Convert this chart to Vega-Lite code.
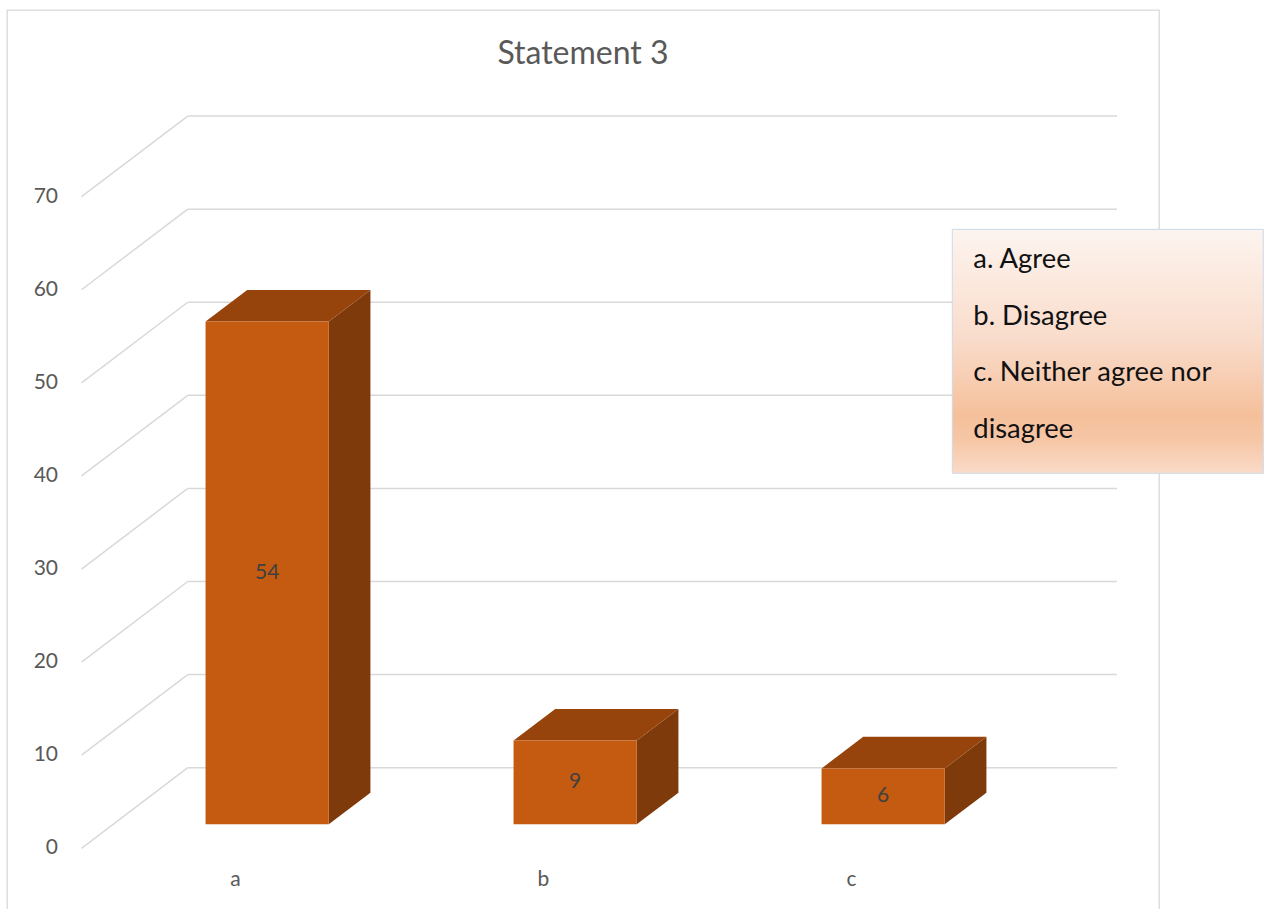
{
  "$schema": "https://vega.github.io/schema/vega-lite/v6.json",
  "width": 1152,
  "height": 902,
  "autosize": "none",
  "padding": {"left": 7, "top": 10, "right": 106, "bottom": 0},
  "background": "#ffffff",
  "config": {
    "font": "Lato",
    "view": {"stroke": "#d9d9d9", "strokeWidth": 1.3}
  },
  "title": {
    "text": "Statement 3",
    "font": "Lato",
    "fontSize": 32,
    "fontWeight": "normal",
    "color": "#595959",
    "anchor": "middle",
    "frame": "group",
    "baseline": "alphabetic",
    "offset": -85.5
  },
  "datasets": {
    "responses": [
      {"label": "a", "value": 54},
      {"label": "b", "value": 9},
      {"label": "c", "value": 6}
    ],
    "ticks": [
      {"tick": 0}, {"tick": 10}, {"tick": 20}, {"tick": 30},
      {"tick": 40}, {"tick": 50}, {"tick": 60}, {"tick": 70}
    ],
    "note": [
      {"text": "a. Agree\nb. Disagree\nc. Neither agree nor\ndisagree"}
    ]
  },
  "layer": [
    {
      "description": "side wall: oblique gridlines running from the floor front to the back wall",
      "data": {"name": "ticks"},
      "transform": [{"calculate": "datum.tick + 8.658", "as": "wall"}],
      "mark": {"type": "rule", "color": "#d9d9d9", "strokeWidth": 1.5},
      "encoding": {
        "x": {"datum": 0, "type": "quantitative", "scale": {"domain": [-0.2419, 3.4984], "nice": false, "zero": false}, "axis": null},
        "x2": {"datum": 0.345},
        "y": {"field": "tick", "type": "quantitative", "scale": {"domain": [-6.843, 90.053], "nice": false, "zero": false}, "axis": null},
        "y2": {"field": "wall"}
      }
    },
    {
      "description": "back wall gridlines",
      "data": {"name": "ticks"},
      "transform": [{"calculate": "datum.tick + 8.658", "as": "wall"}],
      "mark": {"type": "rule", "color": "#d9d9d9", "strokeWidth": 1.5},
      "encoding": {
        "x": {"datum": 0.345, "type": "quantitative", "scale": {"domain": [-0.2419, 3.4984], "nice": false, "zero": false}, "axis": null},
        "x2": {"datum": 3.362},
        "y": {"field": "wall", "type": "quantitative", "scale": {"domain": [-6.843, 90.053], "nice": false, "zero": false}, "axis": null}
      }
    },
    {
      "description": "value axis labels at the front end of each oblique gridline",
      "data": {"name": "ticks"},
      "mark": {"type": "text", "font": "Lato", "fontSize": 21, "color": "#595959", "align": "right", "baseline": "middle"},
      "encoding": {
        "x": {"datum": -0.0763, "type": "quantitative", "scale": {"domain": [-0.2419, 3.4984], "nice": false, "zero": false}, "axis": null},
        "y": {"field": "tick", "type": "quantitative", "scale": {"domain": [-6.843, 90.053], "nice": false, "zero": false}, "axis": null},
        "text": {"field": "tick", "type": "quantitative"}
      }
    },
    {
      "description": "right-hand side face of each column",
      "data": {"name": "responses"},
      "transform": [
        {"window": [{"op": "row_number", "as": "rank"}]},
        {"calculate": "datum.rank - 1", "as": "i"},
        {"calculate": "[0.298, 0.69]", "as": "d"},
        {"flatten": ["d"]},
        {"calculate": "datum.i + 0.7 + 0.345 * datum.d", "as": "xs"},
        {"calculate": "datum.value + 8.658 * datum.d", "as": "yt"},
        {"calculate": "8.658 * datum.d", "as": "yb"}
      ],
      "mark": {"type": "area", "orient": "vertical", "color": "#7f3a0b"},
      "encoding": {
        "x": {"field": "xs", "type": "quantitative", "scale": {"domain": [-0.2419, 3.4984], "nice": false, "zero": false}, "axis": null},
        "y": {"field": "yt", "type": "quantitative", "stack": null, "scale": {"domain": [-6.843, 90.053], "nice": false, "zero": false}, "axis": null},
        "y2": {"field": "yb"},
        "detail": {"field": "label", "type": "nominal"}
      }
    },
    {
      "description": "top face of each column",
      "data": {"name": "responses"},
      "transform": [
        {"window": [{"op": "row_number", "as": "rank"}]},
        {"calculate": "datum.rank - 1", "as": "i"},
        {"calculate": "[0.298, 0.69]", "as": "d"},
        {"flatten": ["d"]},
        {"calculate": "datum.i + 0.3 + 0.345 * datum.d", "as": "xl"},
        {"calculate": "datum.i + 0.7 + 0.345 * datum.d", "as": "xr"},
        {"calculate": "datum.value + 8.658 * datum.d", "as": "yt"}
      ],
      "mark": {"type": "area", "orient": "horizontal", "color": "#97440c"},
      "encoding": {
        "x": {"field": "xl", "type": "quantitative", "stack": null, "scale": {"domain": [-0.2419, 3.4984], "nice": false, "zero": false}, "axis": null},
        "x2": {"field": "xr"},
        "y": {"field": "yt", "type": "quantitative", "scale": {"domain": [-6.843, 90.053], "nice": false, "zero": false}, "axis": null},
        "detail": {"field": "label", "type": "nominal"}
      }
    },
    {
      "description": "front face of each column",
      "data": {"name": "responses"},
      "transform": [
        {"window": [{"op": "row_number", "as": "rank"}]},
        {"calculate": "datum.rank - 1", "as": "i"},
        {"calculate": "datum.i + 0.3 + 0.1028", "as": "x0"},
        {"calculate": "datum.i + 0.7 + 0.1028", "as": "x1"},
        {"calculate": "datum.value + 2.58", "as": "yt"}
      ],
      "mark": {"type": "rect", "color": "#c55a11"},
      "encoding": {
        "x": {"field": "x0", "type": "quantitative", "scale": {"domain": [-0.2419, 3.4984], "nice": false, "zero": false}, "axis": null},
        "x2": {"field": "x1"},
        "y": {"field": "yt", "type": "quantitative", "scale": {"domain": [-6.843, 90.053], "nice": false, "zero": false}, "axis": null},
        "y2": {"datum": 2.58}
      }
    },
    {
      "description": "value labels centred on the front faces",
      "data": {"name": "responses"},
      "transform": [
        {"window": [{"op": "row_number", "as": "rank"}]},
        {"calculate": "datum.rank - 0.5 + 0.1028", "as": "xc"},
        {"calculate": "datum.value / 2 + 2.58", "as": "yc"}
      ],
      "mark": {"type": "text", "font": "Lato", "fontSize": 21, "color": "#404040", "align": "center", "baseline": "middle"},
      "encoding": {
        "x": {"field": "xc", "type": "quantitative", "scale": {"domain": [-0.2419, 3.4984], "nice": false, "zero": false}, "axis": null},
        "y": {"field": "yc", "type": "quantitative", "scale": {"domain": [-6.843, 90.053], "nice": false, "zero": false}, "axis": null},
        "text": {"field": "value", "type": "quantitative"}
      }
    },
    {
      "description": "category labels along the floor front",
      "data": {"name": "responses"},
      "transform": [
        {"window": [{"op": "row_number", "as": "rank"}]},
        {"calculate": "datum.rank - 0.5", "as": "xc"}
      ],
      "mark": {"type": "text", "font": "Lato", "fontSize": 21, "color": "#595959", "align": "center", "baseline": "middle"},
      "encoding": {
        "x": {"field": "xc", "type": "quantitative", "scale": {"domain": [-0.2419, 3.4984], "nice": false, "zero": false}, "axis": null},
        "y": {"datum": -3.405, "type": "quantitative", "scale": {"domain": [-6.843, 90.053], "nice": false, "zero": false}, "axis": null},
        "text": {"field": "label", "type": "nominal"}
      }
    },
    {
      "description": "key box with a light orange gradient",
      "data": {"name": "note"},
      "mark": {
        "type": "rect",
        "stroke": "#cdd9ea",
        "strokeWidth": 1,
        "fill": {
          "gradient": "linear", "x1": 0, "y1": 0, "x2": 0, "y2": 1,
          "stops": [
            {"offset": 0, "color": "#fdf4ef"},
            {"offset": 0.45, "color": "#f9dccb"},
            {"offset": 0.76, "color": "#f5c09b"},
            {"offset": 0.86, "color": "#f6c6a5"},
            {"offset": 1, "color": "#fadbc8"}
          ]
        }
      },
      "encoding": {
        "x": {"datum": 2.8273, "type": "quantitative", "scale": {"domain": [-0.2419, 3.4984], "nice": false, "zero": false}, "axis": null},
        "x2": {"datum": 3.837},
        "y": {"datum": 66.49, "type": "quantitative", "scale": {"domain": [-6.843, 90.053], "nice": false, "zero": false}, "axis": null},
        "y2": {"datum": 40.28}
      }
    },
    {
      "description": "key text",
      "data": {"name": "note"},
      "mark": {"type": "text", "font": "Lato", "fontSize": 27.4, "color": "#111111", "align": "left", "baseline": "middle", "lineBreak": "\n", "lineHeight": 56.7},
      "encoding": {
        "x": {"datum": 2.8955, "type": "quantitative", "scale": {"domain": [-0.2419, 3.4984], "nice": false, "zero": false}, "axis": null},
        "y": {"datum": 63.2, "type": "quantitative", "scale": {"domain": [-6.843, 90.053], "nice": false, "zero": false}, "axis": null},
        "text": {"field": "text", "type": "nominal"}
      }
    }
  ]
}
